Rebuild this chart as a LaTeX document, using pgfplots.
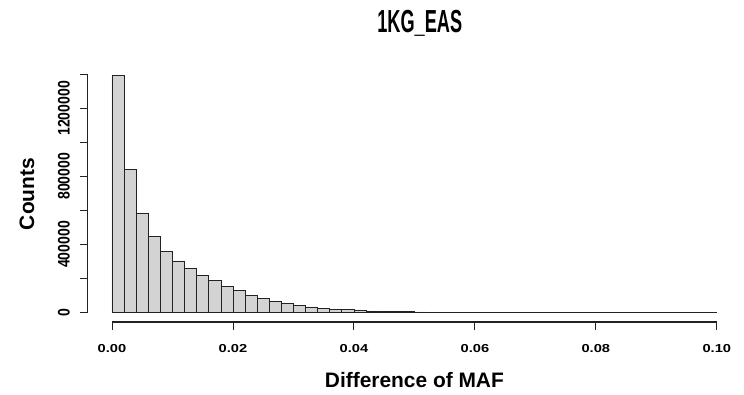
\documentclass[border=0pt]{standalone}
\usepackage{pgfplots}
\pgfplotsset{compat=1.18}
\usepackage{fontspec}
\setmainfont{Liberation Sans}
\usepackage{graphicx}
\definecolor{barfill}{HTML}{D3D3D3}
\definecolor{axgray}{HTML}{222222}
\newcommand{\xt}[1]{\scalebox{1.27}[1]{#1}}
\newcommand{\yt}[1]{\scalebox{1}[1.19]{#1}}
\begin{document}
\begin{tikzpicture}
\useasboundingbox (-87.8bp,-73bp) rectangle (656.2bp,322bp);
\begin{axis}[
  at={(0,0)}, anchor=south west,
  scale only axis, width=653.2bp, height=256.4bp,
  xmin=-0.004, xmax=0.104, ymin=-55800, ymax=1450800,
  axis x line*=bottom, axis y line*=left,
  axis line style={draw=none},
  tick align=outside, major tick length=7.5bp,
  xtick={0,0.02,0.04,0.06,0.08,0.1},
  xticklabels={\xt{0.00},\xt{0.02},\xt{0.04},\xt{0.06},\xt{0.08},\xt{0.10}},
  ytick={0,200000,400000,600000,800000,1000000,1200000,1400000},
  yticklabels={\yt{0},{},\yt{400000},{},\yt{800000},{},\yt{1200000},{}},
  scaled ticks=false,
  tick style={axgray, line width=0.9bp},
  xticklabel style={font=\fontsize{11.6}{13}\selectfont\bfseries},
  xticklabel shift=11bp,
  yticklabel style={font=\fontsize{14.1}{16}\selectfont\bfseries, rotate=90, anchor=south},
  yticklabel shift=7bp,
  /pgf/number format/assume math mode=true,
  clip=false,
]
\addplot[ybar interval, fill=barfill, draw=axgray, line width=0.7bp] coordinates {
(0.000,1395000) (0.002,840000) (0.004,583000) (0.006,445000) (0.008,361000)
(0.010,303000) (0.012,258000) (0.014,217000) (0.016,187000) (0.018,154000)
(0.020,128000) (0.022,102000) (0.024,82000) (0.026,65000) (0.028,52000)
(0.030,42000) (0.032,33000) (0.034,26000) (0.036,20500) (0.038,16000)
(0.040,12500) (0.042,9500) (0.044,7200) (0.046,5500) (0.048,4200)
(0.050,3200) (0.052,2400) (0.054,1800) (0.056,1350) (0.058,1000)
(0.060,750) (0.062,560) (0.064,420) (0.066,310) (0.068,230)
(0.070,170) (0.072,125) (0.074,95) (0.076,70) (0.078,52)
(0.080,38) (0.082,28) (0.084,21) (0.086,15) (0.088,11)
(0.090,8) (0.092,6) (0.094,4) (0.096,3) (0.098,2)
(0.100,2)
};
\coordinate (xa0) at (axis cs:0,-55800);
\coordinate (xa1) at (axis cs:0.1,-55800);
\coordinate (ya0) at (axis cs:-0.004,0);
\coordinate (ya1) at (axis cs:-0.004,1400000);
\end{axis}
\draw[axgray, line width=1.2bp] (xa0) -- (xa1);
\draw[axgray, line width=1.2bp] (ya0) -- (ya1);
\node[font=\fontsize{21}{24}\selectfont\bfseries] at (326.6bp,-58bp) {Difference of MAF};
\node[rotate=90, font=\fontsize{21}{24}\selectfont\bfseries] at (-61bp,128bp) {Counts};
\node[anchor=base, font=\fontsize{32}{36}\selectfont\bfseries] at (332bp,289bp) {\scalebox{0.57}[1]{1KG\_EAS}};
\end{tikzpicture}
\end{document}
